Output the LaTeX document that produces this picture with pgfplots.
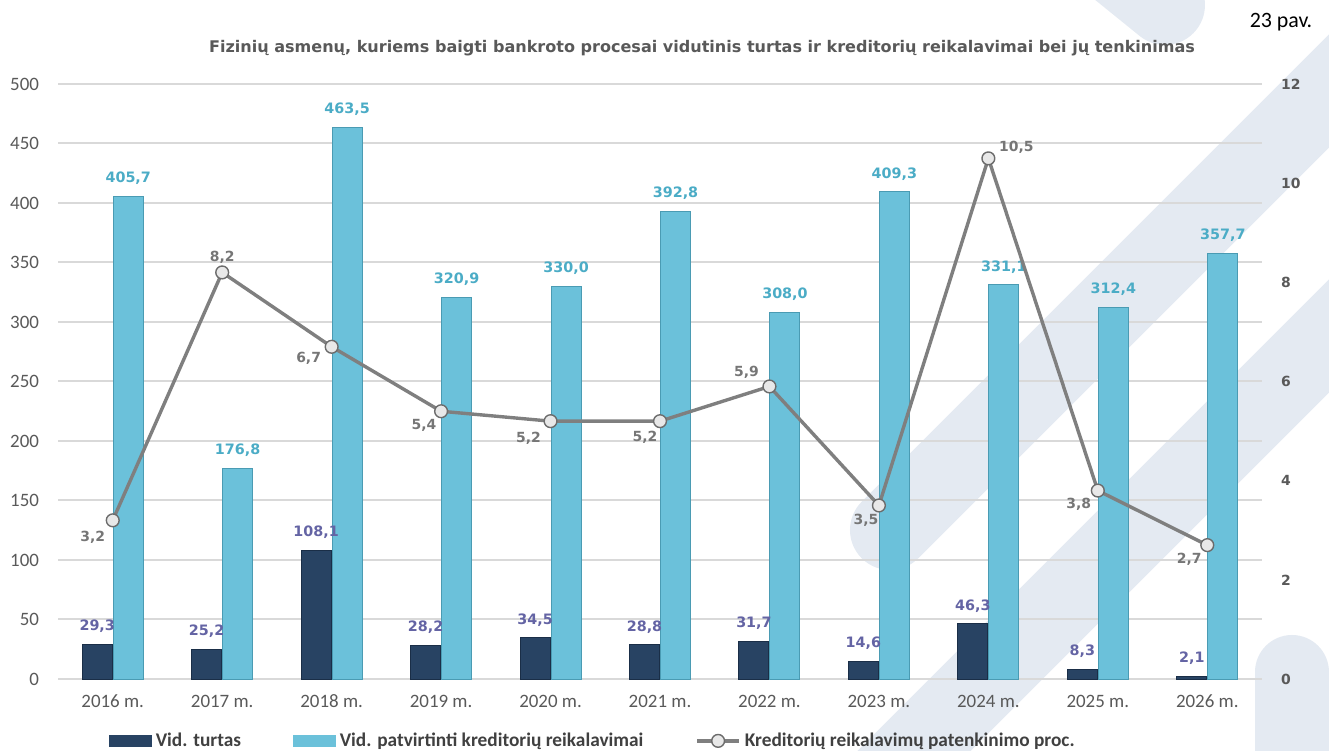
\documentclass[border=0pt]{standalone}
\usepackage{pgfplots}
\pgfplotsset{compat=1.18}
\usepackage{pgfplotstable}
\usepackage{fontspec}
\setmainfont{Carlito}
\newfontfamily\dvs{DejaVu Sans}
\definecolor{darkbar}{HTML}{284363}
\definecolor{darkedge}{HTML}{1A2E47}
\definecolor{lightbar}{HTML}{6BC1DA}
\definecolor{lightedge}{HTML}{4A9BB3}
\definecolor{darklab}{HTML}{6464A4}
\definecolor{lightlab}{HTML}{4BACC6}
\definecolor{linegray}{HTML}{7F7F7F}
\definecolor{labgray}{HTML}{767676}
\definecolor{txtgray}{HTML}{595959}
\definecolor{gridgray}{HTML}{D9D9D9}
\definecolor{wm}{HTML}{E4EAF2}
\definecolor{markfill}{HTML}{E8E8E8}

\pgfplotstableread{
x turtas reik
0 29.3 405.7
1 25.2 176.8
2 108.1 463.5
3 28.2 320.9
4 34.5 330.0
5 28.8 392.8
6 31.7 308.0
7 14.6 409.3
8 46.3 331.1
9 8.3 312.4
10 2.1 357.7
}\bardata

\pgfplotstableread{
x proc dx dy
0 3.2 -10 -8.5
1 8.2 0 7.5
2 6.7 -11.5 -6
3 5.4 -8.5 -7
4 5.2 -11 -8.5
5 5.2 -7.5 -8
6 5.9 -11.5 7
7 3.5 -6.5 -7.5
8 10.5 14 5.5
9 3.8 -9.5 -7
10 2.7 -9 -7
}\linedata

\pgfplotsset{/pgf/number format/assume math mode=true}

\begin{document}
\begin{tikzpicture}
\path[use as bounding box] (0,0) rectangle (664.5bp,375.5bp);
% faint background watermark
\begin{scope}[x=0.5bp,y=-0.5bp,yshift=375.5bp]
  \clip (0,0) rectangle (1329,751);
  \draw[wm, line width=40bp, line cap=round] (890,530) -- (1420,0);
  \draw[wm, line width=40bp, line cap=round] (865,800) -- (1380,285);
  \draw[wm, line width=40bp, line cap=round] (1060,-80) -- (1165,5);
  \draw[wm, line width=37bp, line cap=round] (1292,672) -- (1292,820);
\end{scope}

\begin{axis}[
  at={(29bp,36bp)}, anchor=south west,
  scale only axis, width=602bp, height=297.5bp,
  xmin=-0.5, xmax=10.5, ymin=0, ymax=500,
  ytick={0,50,...,500},
  xtick=data,
  xticklabels={2016 m.,2017 m.,2018 m.,2019 m.,2020 m.,2021 m.,2022 m.,2023 m.,2024 m.,2025 m.,2026 m.},
  axis line style={draw=none}, major tick length=0pt,
  ymajorgrids, grid style={gridgray, line width=1bp},
  ybar=0.5bp, bar width=15bp,
  tick label style={font=\fontsize{9.5}{11}\selectfont, text=txtgray},
  yticklabel style={anchor=east, xshift=-6bp},
  xticklabel style={anchor=north, yshift=-4.5bp},
  nodes near coords={\pgfmathprintnumber[fixed,fixed zerofill,precision=1,use comma]{\pgfplotspointmeta}},
  nodes near coords style={font=\dvs\bfseries\fontsize{7.2}{8}\selectfont, anchor=center, yshift=9bp},
  clip=false,
]
\addplot[fill=darkbar, draw=darkedge, line width=0.5bp,
  every node near coord/.append style={text=darklab}] table[x=x,y=turtas]{\bardata};
\addplot[fill=lightbar, draw=lightedge, line width=0.5bp,
  every node near coord/.append style={text=lightlab}] table[x=x,y=reik]{\bardata};
\end{axis}

\begin{axis}[
  at={(29bp,36bp)}, anchor=south west,
  scale only axis, width=602bp, height=297.5bp,
  xmin=-0.5, xmax=10.5, ymin=0, ymax=12,
  ytick={0,2,...,12},
  hide x axis, axis y line*=right,
  axis line style={draw=none}, major tick length=0pt,
  yticklabel style={font=\dvs\bfseries\fontsize{7}{8}\selectfont, text=txtgray, anchor=west, xshift=6bp},
  clip=false,
  legend columns=3,
  legend style={at={(axis description cs:0.445,-0.104)}, anchor=center, draw=none, fill=none,
    font=\bfseries\fontsize{9.7}{12}\selectfont, text=black!75,
    /tikz/every even column/.append style={column sep=24bp},
    nodes={inner sep=2bp}},
]
\addlegendimage{legend image code/.code={\fill[darkbar] (0bp,-2.7bp) rectangle (21bp,2.7bp);}}
\addlegendentry{Vid. turtas}
\addlegendimage{legend image code/.code={\fill[lightbar] (0bp,-2.7bp) rectangle (21bp,2.7bp);}}
\addlegendentry{Vid. patvirtinti kreditorių reikalavimai}
\addplot[linegray, line width=1.7bp, mark=*, mark size=3.2bp,
  mark options={fill=markfill, draw=linegray!85!black, line width=0.7bp},
  legend image code/.code={\draw[linegray, line width=1.7bp] (0bp,0bp) -- (21bp,0bp);
    \filldraw[fill=markfill, draw=linegray!85!black, line width=0.7bp] (10.5bp,0bp) circle (3.2bp);},
  visualization depends on={\thisrow{dx} \as \ldx},
  visualization depends on={\thisrow{dy} \as \ldy},
  nodes near coords={\pgfmathprintnumber[fixed,fixed zerofill,precision=1,use comma]{\pgfplotspointmeta}},
  nodes near coords style={font=\dvs\bfseries\fontsize{7}{8}\selectfont, text=labgray, anchor=center,
    xshift=\ldx bp, yshift=\ldy bp},
] table[x=x,y=proc]{\linedata};
\addlegendentry{Kreditorių reikalavimų patenkinimo proc.}
\end{axis}

\node[font=\dvs\bfseries\fontsize{8.05}{10}\selectfont, text=txtgray] at (351bp,351.5bp)
  {Fizinių asmenų, kuriems baigti bankroto procesai vidutinis turtas ir kreditorių reikalavimai bei jų tenkinimas};
\node[font=\fontsize{11}{13}\selectfont, text=black] at (640.5bp,364.5bp) {23 pav.};
\end{tikzpicture}
\end{document}
